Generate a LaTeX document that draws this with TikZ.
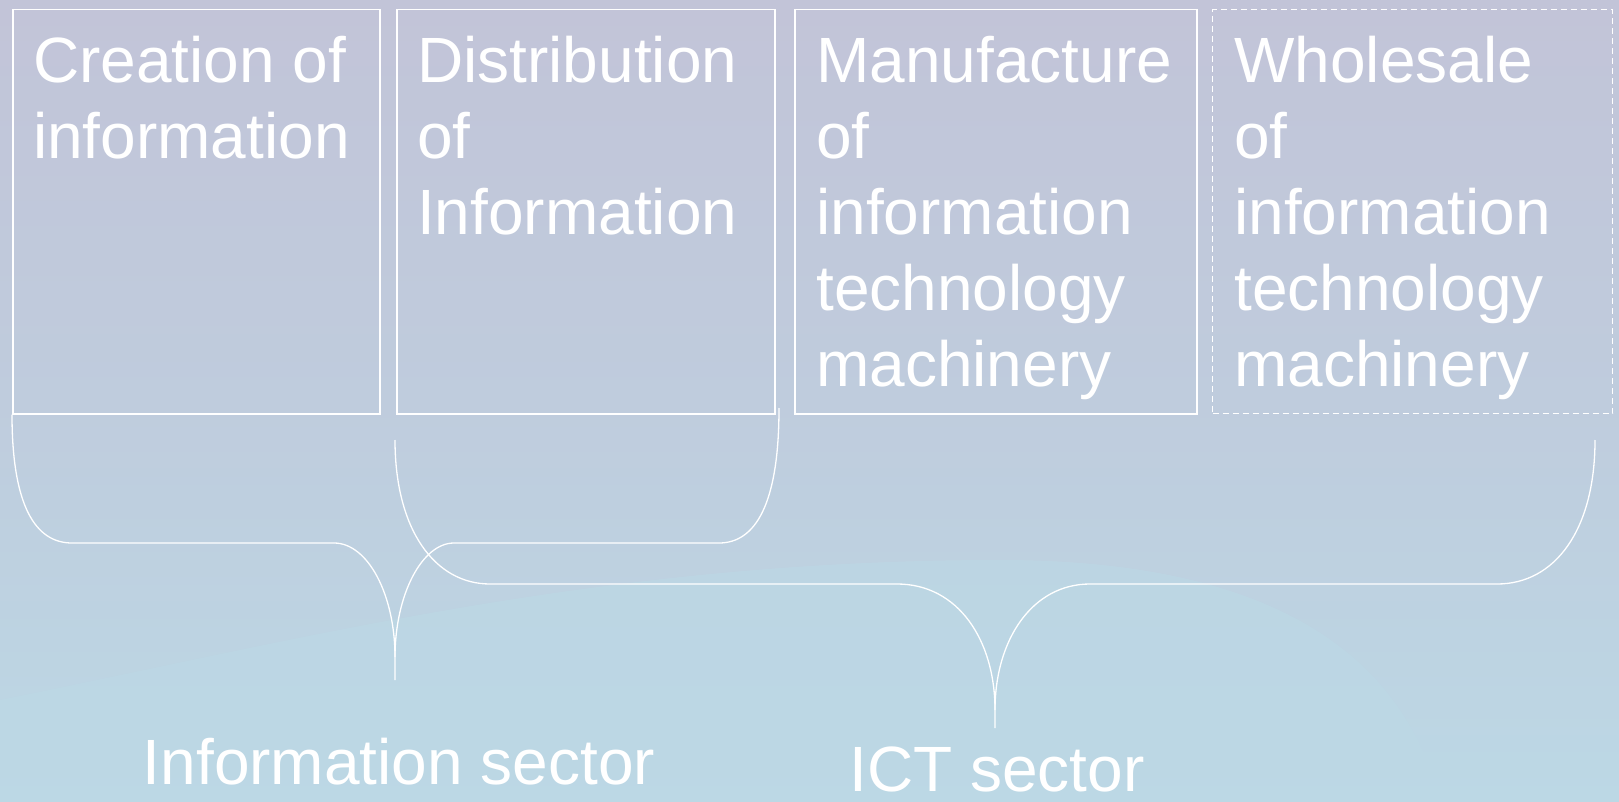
\documentclass[tikz,border=0pt]{standalone}
\usepackage{fontspec}
\setmainfont{Liberation Sans}
\begin{document}
\begin{tikzpicture}[x=1pt,y=-1pt,
  boxline/.style={draw=white,line width=1.5pt},
  dashbox/.style={draw=white,line width=1.3pt,dash pattern=on 6pt off 4pt},
  brace/.style={draw=white,line width=1.3pt},
  boxtext/.style={anchor=north west,inner sep=0pt,align=left,text=white,font=\fontsize{64}{76}\selectfont},
  label/.style={anchor=base,inner sep=0pt,text=white,font=\fontsize{64}{76}\selectfont}]
\definecolor{bgtop}{HTML}{C2C4D8}
\definecolor{bgmid}{HTML}{BFCCDD}
\definecolor{bgbot}{HTML}{BCD8E5}
\useasboundingbox (0,0) rectangle (1619,802);
\shade[top color=bgtop,bottom color=bgbot,middle color=bgmid] (0,0) rectangle (1619,802);
\fill[bgbot,opacity=0.7] (0,700) .. controls (300,640) and (600,560) .. (1000,560)
  .. controls (1250,560) and (1400,640) .. (1440,802) -- (0,802) -- cycle;
% boxes
\node[boxline,anchor=north west,minimum width=367pt,minimum height=404pt,inner sep=0pt] (b1) at (12,9) {};
\node[boxline,anchor=north west,minimum width=378pt,minimum height=404pt,inner sep=0pt] (b2) at (396,9) {};
\node[boxline,anchor=north west,minimum width=402pt,minimum height=404pt,inner sep=0pt] (b3) at (794,9) {};
\node[dashbox,anchor=north west,minimum width=400pt,minimum height=404pt,inner sep=0pt] (b4) at (1212,9) {};
% texts
\node[boxtext] (t1) at ([xshift=21pt,yshift=-20pt]b1.north west) {\strut Creation of\\information};
\node[boxtext] (t2) at ([xshift=21pt,yshift=-20pt]b2.north west) {\strut Distribution\\of\\Information};
\node[boxtext] (t3) at ([xshift=22pt,yshift=-20pt]b3.north west) {\strut Manufacture\\of\\information\\technology\\machinery};
\node[boxtext] (t4) at ([xshift=22pt,yshift=-20pt]b4.north west) {\strut Wholesale\\of\\information\\technology\\machinery};
% brace coordinates
\coordinate (l1) at (b1.south west);
\coordinate (r1) at (779,408);
\coordinate (tip1) at (395,657);
\coordinate (end1) at (395,680);
\coordinate (l2) at (395,440);
\coordinate (r2) at (1595,440);
\coordinate (tip2) at (995,710);
\coordinate (end2) at (995,728);
% brace 1
\draw[brace] (l1) .. controls (12,505) and (35,543) .. (72,543) -- (334,543)
  .. controls (368,543) and (395,595) .. (tip1) -- (end1);
\draw[brace] (r1) .. controls (779,505) and (755,543) .. (719,543) -- (454,543)
  .. controls (422,543) and (395,595) .. (tip1);
% brace 2
\draw[brace] (l2) .. controls (395,530) and (435,584) .. (490,584) -- (897,584)
  .. controls (958,584) and (995,640) .. (tip2) -- (end2);
\draw[brace] (r2) .. controls (1595,530) and (1555,584) .. (1497,584) -- (1090,584)
  .. controls (1032,584) and (995,640) .. (tip2);
% labels
\node[label] (info) at (399,784) {Information sector};
\node[label,anchor=base west] (ict) at (849,791) {ICT sector};
\end{tikzpicture}
\end{document}
